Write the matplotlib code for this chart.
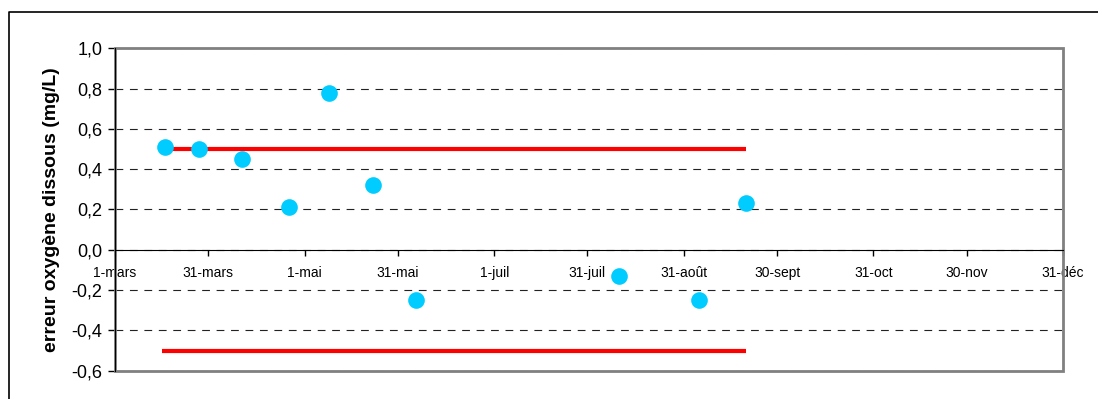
import datetime as dt

import matplotlib
matplotlib.use("Agg")
import matplotlib.pyplot as plt
import matplotlib.dates as mdates
from matplotlib.patches import Rectangle
from matplotlib.lines import Line2D
from matplotlib.ticker import FuncFormatter

plt.rcParams['font.family'] = ['Liberation Sans', 'DejaVu Sans']

# sampling dates and dissolved-oxygen error (mg/L)
sample_dates = ['2005-03-17', '2005-03-28', '2005-04-11', '2005-04-26', '2005-05-09',
                '2005-05-23', '2005-06-06', '2005-08-10', '2005-09-05', '2005-09-20']
errors = [0.51, 0.50, 0.45, 0.21, 0.78, 0.32, -0.25, -0.13, -0.25, 0.23]

# tolerance limits (+/- 0.5 mg/L) over the sampling period
limit_dates = ['2005-03-16', '2005-09-20']
upper_limit = [0.5, 0.5]
lower_limit = [-0.5, -0.5]

tick_dates = ['2005-03-01', '2005-03-31', '2005-05-01', '2005-05-31', '2005-07-01', '2005-07-31',
              '2005-08-31', '2005-09-30', '2005-10-31', '2005-11-30', '2005-12-31']
tick_labels = ['1-mars', '31-mars', '1-mai', '31-mai', '1-juil', '31-juil',
               '31-août', '30-sept', '31-oct', '30-nov', '31-déc']

to_dt = lambda lst: [dt.datetime.strptime(d, '%Y-%m-%d') for d in lst]

fig = plt.figure(figsize=(10.98, 3.99), dpi=100)
ax = fig.add_axes([115 / 1098, 1 - 370.7 / 399, (1063 - 115) / 1098, (370.7 - 48.3) / 399])

# outer chart frame (cut by the image edges)
fig.add_artist(Line2D([9 / 1098, 9 / 1098, 1.0], [0.0, 1 - 12 / 399, 1 - 12 / 399],
                      transform=fig.transFigure, color='black', lw=1.2))

# limit lines
ax.plot(to_dt(limit_dates), upper_limit, color='#FF0000', lw=3, solid_capstyle='butt', zorder=3)
ax.plot(to_dt(limit_dates), lower_limit, color='#FF0000', lw=3, solid_capstyle='butt', zorder=3)

# measurements
ax.plot(to_dt(sample_dates), errors, linestyle='none', marker='o', markersize=12,
        color='#00CCFF', markeredgewidth=0, zorder=4)

ax.set_xlim(dt.datetime(2005, 3, 1), dt.datetime(2005, 12, 31))
ax.set_ylim(-0.6, 1.0)

ax.set_xticks(mdates.date2num(to_dt(tick_dates)))
ax.set_xticklabels(tick_labels, fontsize=10)
ax.set_yticks([-0.6, -0.4, -0.2, 0.0, 0.2, 0.4, 0.6, 0.8, 1.0])
ax.yaxis.set_major_formatter(FuncFormatter(lambda v, p: f'{v:.1f}'.replace('.', ',')))
ax.tick_params(axis='y', labelsize=13, direction='out', length=5, width=1, pad=4)
ax.tick_params(axis='x', direction='out', length=4, width=1, pad=8)

# dashed grid
ax.yaxis.grid(True, color='#222222', linestyle=(0, (7, 6)), lw=0.8)
ax.set_axisbelow(True)

# plot area border in gray, x axis through zero
for s in ['top', 'right']:
    ax.spines[s].set_visible(False)
ax.add_patch(Rectangle((0, 0), 1, 1, transform=ax.transAxes, fill=False,
                       edgecolor='#808080', lw=2, zorder=1, clip_on=False))
ax.spines['bottom'].set_position(('data', 0))
ax.spines['bottom'].set_color('black')
ax.spines['left'].set_color('black')
ax.spines['left'].set_zorder(5)

ax.set_ylabel('erreur oxygène dissous (mg/L)', fontsize=14, fontweight='bold', labelpad=8)

fig.savefig('out.png', dpi=100)
